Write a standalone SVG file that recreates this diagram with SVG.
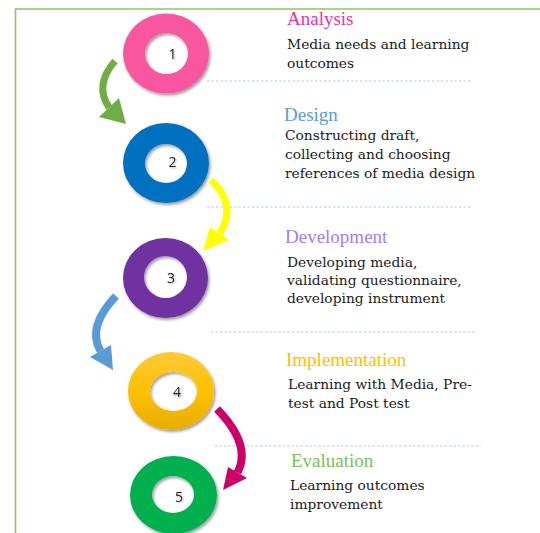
<svg xmlns="http://www.w3.org/2000/svg" width="540" height="533" viewBox="0 0 540 533">
  <style>
    .frame { fill: none; stroke: #8cc66c; stroke-width: 1.6; }
    .sep { stroke: #a9cbea; stroke-width: 1; stroke-dasharray: 2.5 2; fill: none; }
    .ring { fill-rule: evenodd; filter: url(#shadow); }
    .num { font-family: "Open Sans", "DejaVu Sans", sans-serif; font-size: 14px; fill: #262626; text-anchor: middle; filter: url(#txtshadow); }
    .title { font-family: "Liberation Serif", "Times New Roman", serif; font-size: 19px; }
    .body { font-family: "DejaVu Serif", serif; font-size: 13.8px; fill: #1a1a1a; }
    .shaft { fill: none; stroke-linecap: butt; }
  </style>
  <defs>
    <filter id="shadow" x="-20%" y="-20%" width="140%" height="140%">
      <feDropShadow dx="1.5" dy="2" stdDeviation="1.5" flood-color="#000" flood-opacity="0.4"/>
    </filter>
    <filter id="txtshadow" x="-50%" y="-50%" width="200%" height="200%">
      <feDropShadow dx="1" dy="1" stdDeviation="0.8" flood-color="#000" flood-opacity="0.35"/>
    </filter>
    <linearGradient id="gold" x1="0" y1="0" x2="0" y2="1">
      <stop offset="0" stop-color="#ffca3a"/>
      <stop offset="0.5" stop-color="#ffc000"/>
      <stop offset="1" stop-color="#e8ad00"/>
    </linearGradient>
  </defs>

  <rect width="540" height="533" fill="#ffffff"/>

  <!-- page frame: top and left rules -->
  <path class="frame" d="M15.5,533 V9 H540"/>

  <!-- dotted separators between phases -->
  <g id="separators">
    <line class="sep" x1="207" y1="81" x2="472" y2="81"/>
    <line class="sep" x1="207" y1="207" x2="472" y2="207"/>
    <line class="sep" x1="211" y1="332" x2="477" y2="332"/>
    <line class="sep" x1="215" y1="446" x2="481" y2="446"/>
  </g>

  <!-- curved arrows between the rings -->
  <g id="connectors">
    <g id="arrow-1-2" fill="#70ad47" stroke="#70ad47">
      <path class="shaft" stroke-width="7" d="M115,61 Q94,85 109,107.5"/>
      <polygon stroke="none" points="99,117 126,124 119,98"/>
    </g>
    <g id="arrow-2-3" fill="#ffff00" stroke="#ffff00">
      <path class="shaft" stroke-width="7" d="M211,180 Q238,205 219.5,233.5"/>
      <polygon stroke="none" points="229,240 203,251 210,227"/>
    </g>
    <g id="arrow-3-4" fill="#5b9bd5" stroke="#5b9bd5">
      <path class="shaft" stroke-width="8" d="M116,296 Q86.5,327 100.5,351"/>
      <polygon stroke="none" points="90,357 113,370 111,345"/>
    </g>
    <g id="arrow-4-5" fill="#cc0066" stroke="#cc0066">
      <path class="shaft" stroke-width="8" d="M217,409 Q252,445 237.5,472.5"/>
      <polygon stroke="none" points="247,478 223,490 228,467"/>
    </g>
  </g>

  <!-- phase 1 -->
  <g id="node-analysis">
    <path class="ring" fill="#f8579f" d="M123,53.5 a43,40 0 1,0 86,0 a43,40 0 1,0 -86,0 Z M145,53.5 a21.5,20.5 0 1,0 43,0 a21.5,20.5 0 1,0 -43,0 Z"/>
    <text class="num" x="172.5" y="59">1</text>
    <text class="title" x="287" y="25" fill="#e8369e">Analysis</text>
    <text class="body" x="287" y="49">Media needs and learning</text>
    <text class="body" x="287" y="68">outcomes</text>
  </g>

  <!-- phase 2 -->
  <g id="node-design">
    <path class="ring" fill="#0070c0" d="M123,163 a43,40 0 1,0 86,0 a43,40 0 1,0 -86,0 Z M145,163.5 a21,19.5 0 1,0 42,0 a21,19.5 0 1,0 -42,0 Z"/>
    <text class="num" x="172.5" y="167">2</text>
    <text class="title" x="284" y="121" fill="#5b9bd5">Design</text>
    <text class="body" x="285" y="140">Constructing draft,</text>
    <text class="body" x="285" y="159">collecting and choosing</text>
    <text class="body" x="285" y="178">references of media design</text>
  </g>

  <!-- phase 3 -->
  <g id="node-development">
    <path class="ring" fill="#7030a0" d="M123,278 a42.5,40 0 1,0 85,0 a42.5,40 0 1,0 -85,0 Z M144,277 a21.5,21 0 1,0 43,0 a21.5,21 0 1,0 -43,0 Z"/>
    <text class="num" x="171" y="283">3</text>
    <text class="title" x="285" y="243" fill="#a47cf4">Development</text>
    <text class="body" x="287" y="267">Developing media,</text>
    <text class="body" x="287" y="285">validating questionnaire,</text>
    <text class="body" x="287" y="303">developing instrument</text>
  </g>

  <!-- phase 4 -->
  <g id="node-implementation">
    <path class="ring" fill="url(#gold)" d="M128,391 a43,39 0 1,0 86,0 a43,39 0 1,0 -86,0 Z M150,391.5 a23.5,19.5 0 1,0 47,0 a23.5,19.5 0 1,0 -47,0 Z"/>
    <text class="num" x="177" y="397">4</text>
    <text class="title" x="286" y="366" fill="#ffc000">Implementation</text>
    <text class="body" x="288" y="389">Learning with Media, Pre-</text>
    <text class="body" x="288" y="408">test and Post test</text>
  </g>

  <!-- phase 5 -->
  <g id="node-evaluation">
    <path class="ring" fill="#00b050" d="M130,495 a43.5,39 0 1,0 87,0 a43.5,39 0 1,0 -87,0 Z M152,494.5 a21,18.5 0 1,0 42,0 a21,18.5 0 1,0 -42,0 Z"/>
    <text class="num" x="179" y="502">5</text>
    <text class="title" x="291" y="467" fill="#77c05a">Evaluation</text>
    <text class="body" x="290" y="490">Learning outcomes</text>
    <text class="body" x="290" y="509">improvement</text>
  </g>
</svg>
